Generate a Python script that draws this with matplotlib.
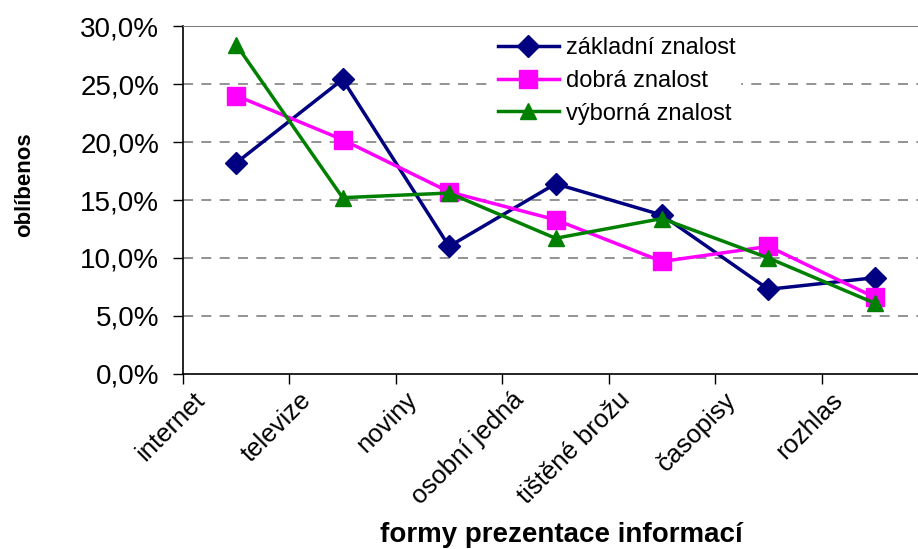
import numpy as np
import matplotlib.pyplot as plt
import matplotlib.transforms as mtransforms
from matplotlib.ticker import FuncFormatter

# data
kategorie = ["internet", "televize", "noviny", "osobní jedná", "tištěné brožu", "časopisy", "rozhlas"]
zakladni = [18.2, 25.4, 11.0, 16.4, 13.7, 7.3, 8.3]
dobra = [24.0, 20.2, 15.7, 13.3, 9.7, 11.0, 6.6]
vyborna = [28.4, 15.2, 15.6, 11.7, 13.4, 10.0, 6.1]

plt.rcParams['font.family'] = ['Liberation Sans', 'DejaVu Sans']

fig = plt.figure(figsize=(9.18, 5.49), dpi=100)
ax = fig.add_axes([0.1993, 0.3188, 0.8117, 0.6338])

x = np.arange(len(kategorie))
ax.plot(x, zakladni, color="#000080", lw=2.5, marker="D", ms=11, label="základní znalost", zorder=3)
ax.plot(x, dobra, color="#FF00FF", lw=2.5, marker="s", ms=13, label="dobrá znalost", zorder=3)
ax.plot(x, vyborna, color="#008000", lw=2.5, marker="^", ms=11, label="výborná znalost", zorder=3)

ax.set_ylim(0, 30)
ax.set_yticks(np.arange(0, 31, 5))
ax.yaxis.set_major_formatter(FuncFormatter(lambda v, p: f"{v:.1f}%".replace(".", ",")))
ax.tick_params(axis="y", labelsize=20, length=7.2, width=1, direction="out", pad=10)
for yv in [5, 10, 15, 20, 25]:
    ax.axhline(yv, color="#808080", lw=1.2, ls=(0, (6, 5)), zorder=1)

ax.set_xlim(-0.5, len(kategorie) - 0.5)
ax.set_xticks(np.arange(-0.5, len(kategorie), 1))
ax.set_xticklabels([])
ax.set_xticks(x, minor=True)
ax.set_xticklabels(kategorie, minor=True, rotation=45, ha="right", va="top", fontsize=18.5)
ax.tick_params(axis="x", which="major", length=7.2, width=1, direction="out")
ax.tick_params(axis="x", which="minor", length=0, pad=10)
offset = mtransforms.ScaledTranslation(-0.27, 0.0, fig.dpi_scale_trans)
for lab in ax.xaxis.get_minorticklabels():
    lab.set_transform(lab.get_transform() + offset)

ax.spines["top"].set_color("#808080")
ax.spines["right"].set_visible(False)
ax.spines["left"].set_linewidth(1.2)
ax.spines["bottom"].set_linewidth(1.2)

fig.text(0.611, 0.026, "formy prezentace informací", fontsize=20, fontweight="bold", ha="center", va="center")
fig.text(0.027, 0.663, "oblíbenos", rotation=90, fontsize=16, fontweight="bold", ha="center", va="center")

leg = ax.legend(loc="upper left", bbox_to_anchor=(0.4, 1.015), frameon=True, fontsize=17,
                handlelength=2.6, handletextpad=0.3, labelspacing=0.45, borderpad=0.2)
leg.get_frame().set_edgecolor("white")
leg.get_frame().set_facecolor("white")
leg.get_frame().set_alpha(1)

fig.savefig("out.png", dpi=100)
